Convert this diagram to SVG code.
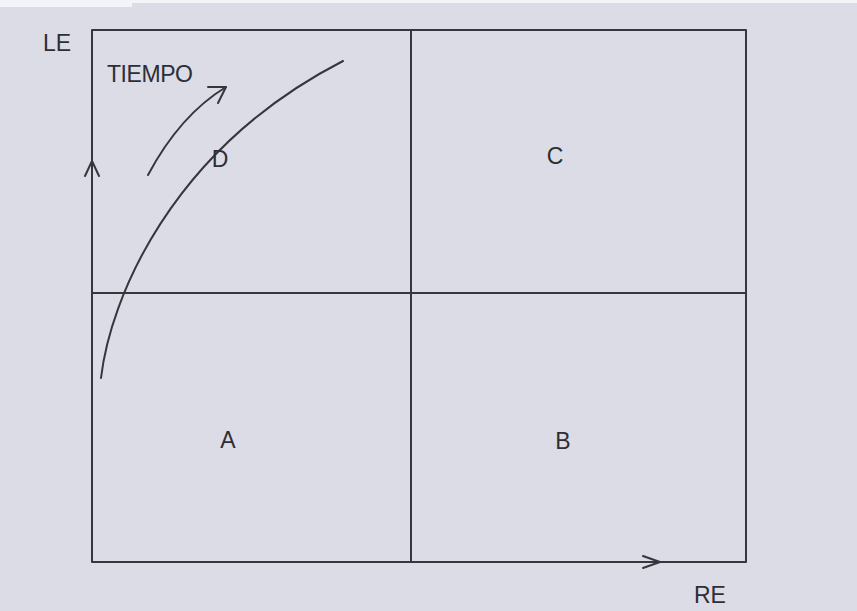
<svg xmlns="http://www.w3.org/2000/svg" width="857" height="611" viewBox="0 0 857 611">
  <style>
    .ln { fill: none; stroke: #36363c; stroke-width: 2; stroke-linecap: round; stroke-linejoin: round; }
    .lbl { font-family: "Liberation Sans", Arial, sans-serif; font-size: 23px; fill: #2e2e34; }
    .mid { text-anchor: middle; }
  </style>
  <rect x="0" y="0" width="857" height="611" fill="#dcdce6"/>
  <rect x="0" y="0" width="857" height="3" fill="#f4f4f8"/>
  <rect x="0" y="0" width="132" height="7" fill="#f4f4f8"/>

  <g id="frame">
    <path class="ln" d="M92,562 L92,30 L746,30 L746,562 Z"/>
  </g>
  <g id="dividers">
    <line class="ln" x1="411" y1="30" x2="411" y2="562"/>
    <line class="ln" x1="92" y1="293" x2="746" y2="293"/>
  </g>
  <g id="connectors">
    <path id="le-arrow" class="ln" d="M85,176 L92,161 L99,176"/>
    <path id="re-arrow" class="ln" d="M643,556 L660,562 L643,568"/>
    <path id="curve" class="ln" d="M101,378 C110,300 170,150 343,61"/>
    <path id="tiempo-arrow" class="ln" d="M148,175 Q180,115 226,87"/>
    <path id="tiempo-head" class="ln" d="M208,87 L226,87 L218,103"/>
  </g>

  <g id="label-LE"><text class="lbl" x="43" y="51">LE</text></g>
  <g id="label-RE"><text class="lbl" x="694" y="603">RE</text></g>
  <g id="label-TIEMPO"><text class="lbl" x="107" y="82" textLength="86">TIEMPO</text></g>
  <g id="node-D"><text class="lbl mid" x="220" y="167">D</text></g>
  <g id="node-C"><text class="lbl mid" x="555" y="164">C</text></g>
  <g id="node-A"><text class="lbl mid" x="228" y="448">A</text></g>
  <g id="node-B"><text class="lbl mid" x="563" y="449">B</text></g>
</svg>
